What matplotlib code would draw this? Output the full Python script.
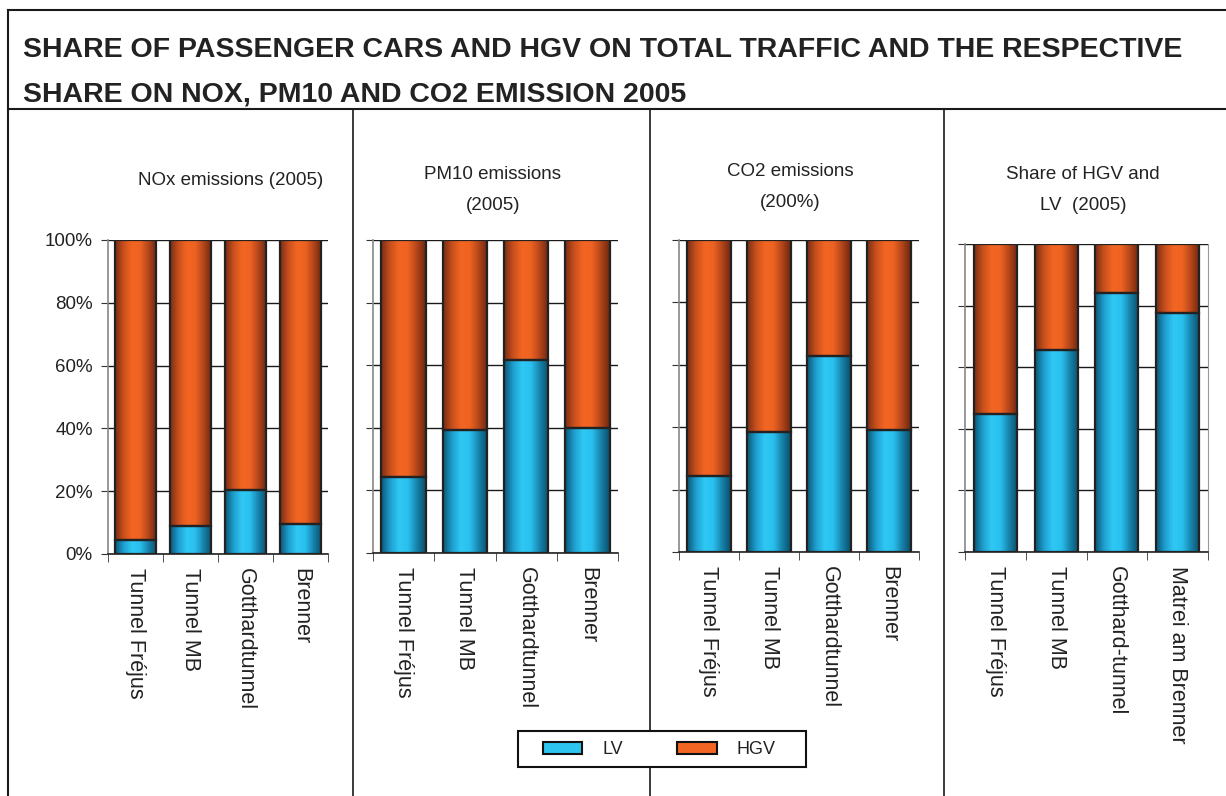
import matplotlib
matplotlib.use('Agg')
import matplotlib.pyplot as plt
import numpy as np
from matplotlib.colors import LinearSegmentedColormap
from matplotlib.patches import Rectangle, Patch
from matplotlib.lines import Line2D

W, H = 1226, 796
plt.rcParams['font.family'] = ['Liberation Sans', 'DejaVu Sans']

# ---------------- data ----------------
title_line1 = "SHARE OF PASSENGER CARS AND HGV ON TOTAL TRAFFIC AND THE RESPECTIVE"
title_line2 = "SHARE ON NOX, PM10 AND CO2 EMISSION 2005"
panel_titles = ["NOx emissions (2005)", "PM10 emissions\n(2005)",
                "CO2 emissions\n(200%)", "Share of HGV and\nLV  (2005)"]
cats_emission = ["Tunnel Fréjus", "Tunnel MB", "Gotthardtunnel", "Brenner"]
cats_share = ["Tunnel Fréjus", "Tunnel MB", "Gotthard-tunnel", "Matrei am Brenner"]
lv_nox = [4.5, 8.9, 20.4, 9.5]
lv_pm10 = [24.4, 39.3, 61.7, 39.8]
lv_co2 = [24.2, 38.4, 62.9, 39.1]
lv_share = [44.8, 65.6, 84.2, 77.7]
total = 100.0
yticks = [0, 20, 40, 60, 80, 100]
ytick_labels = ["0%", "20%", "40%", "60%", "80%", "100%"]
series_names = ["LV", "HGV"]

panels = [
    (panel_titles[0], cats_emission, lv_nox),
    (panel_titles[1], cats_emission, lv_pm10),
    (panel_titles[2], cats_emission, lv_co2),
    (panel_titles[3], cats_share, lv_share),
]

# ---------------- layout (pixels) ----------------
axes_px = [(108, 240, 328, 554), (373, 240, 618, 553),
           (679, 240, 919, 552), (965, 244, 1208, 552)]
bar_widths = [0.75, 0.73, 0.72, 0.71]
subtitle_px = [(231, 172), (493, 166), (790, 163), (1083, 166)]

LV_FLAT = '#2EC4F0'
HGV_FLAT = '#F26522'
lv_cmap = LinearSegmentedColormap.from_list(
    'lv', ['#0b5878', '#1f9fcf', '#2fc8f4', '#2ac0ee', '#1784ad', '#0b4f6a'])
hgv_cmap = LinearSegmentedColormap.from_list(
    'hgv', ['#7a2e15', '#c9501d', '#f26522', '#ef6322', '#b4461b', '#6e270f'])
grad = np.linspace(0, 1, 64).reshape(1, -1)


def fx(x):
    return x / W


def fy(y):
    return 1 - y / H


fig = plt.figure(figsize=(W / 100, H / 100), dpi=100)

# frame lines
lw_frame = 1.5
fig.add_artist(Line2D([fx(8), fx(W)], [fy(10), fy(10)], color='#1a1a1a', lw=lw_frame))
fig.add_artist(Line2D([fx(8), fx(8)], [fy(10), fy(H)], color='#1a1a1a', lw=lw_frame))
fig.add_artist(Line2D([fx(8), fx(W)], [fy(109), fy(109)], color='#1a1a1a', lw=lw_frame))
for xd in (353, 650, 944):
    fig.add_artist(Line2D([fx(xd), fx(xd)], [fy(109), fy(H)], color='#1a1a1a', lw=1.2))

fig.text(fx(23), fy(57), title_line1, fontsize=20.5, fontweight='bold', color='#222222',
         ha='left', va='baseline')
fig.text(fx(23), fy(102), title_line2, fontsize=20.5, fontweight='bold', color='#222222',
         ha='left', va='baseline')

for i, (ptitle, cats, lv) in enumerate(panels):
    l, t, r, b = axes_px[i]
    ax = fig.add_axes([fx(l), fy(b), (r - l) / W, (b - t) / H])
    x = np.arange(len(cats))
    lv = np.array(lv)
    hgv = total - lv
    w = bar_widths[i]
    for xi, lo, hi in zip(x, lv, hgv):
        for y0, h, cmap in ((0, lo, lv_cmap), (lo, hi, hgv_cmap)):
            ax.imshow(grad, cmap=cmap, aspect='auto', zorder=2,
                      extent=(xi - w / 2, xi + w / 2, y0, y0 + h), interpolation='bicubic')
            ax.add_patch(Rectangle((xi - w / 2, y0), w, h, fill=False,
                                   edgecolor='#222222', lw=1.6, zorder=3))
    ax.set_xlim(-0.5, len(cats) - 0.5)
    ax.set_ylim(0, total)
    ax.set_yticks(yticks)
    ax.yaxis.grid(True, color='#1a1a1a', lw=1.0)
    ax.set_axisbelow(True)
    ax.set_xticks(x)
    ax.set_xticklabels(cats, rotation=270, fontsize=15.5, color='#222222', va='top', ha='center')
    ax.set_xticks(np.arange(-0.5, len(cats)), minor=True)
    ax.tick_params(axis='x', which='major', length=0, pad=10)
    ax.tick_params(axis='x', which='minor', length=6, color='#333333', direction='out')
    if i == 0:
        ax.set_yticklabels(ytick_labels, fontsize=13.5, color='#222222')
        ax.tick_params(axis='y', length=5, color='#333333', direction='out', pad=6)
    else:
        ax.set_yticklabels([])
        ax.tick_params(axis='y', length=5, color='#333333', direction='out')
    ax.spines['top'].set_visible(False)
    ax.spines['right'].set_visible(i == 3)
    ax.spines['right'].set_color('#999999')
    ax.spines['left'].set_color('#888888')
    ax.spines['left'].set_linewidth(1.2)
    ax.spines['bottom'].set_color('#222222')
    ax.spines['bottom'].set_linewidth(1.2)
    ax.set_facecolor('none')
    cx, cy = subtitle_px[i]
    fig.text(fx(cx), fy(cy), ptitle, fontsize=13.5, color='#222222', ha='center', va='top',
             linespacing=2.1)

handles = [Patch(facecolor=LV_FLAT, edgecolor='#111111', lw=1.5),
           Patch(facecolor=HGV_FLAT, edgecolor='#111111', lw=1.5)]
leg = fig.legend(handles, series_names, loc='center', bbox_to_anchor=(fx(659), fy(750)),
                 ncol=2, fontsize=13, frameon=False,
                 handlelength=2.2, handleheight=0.6, columnspacing=3.0, handletextpad=1.1,
                 borderpad=0.6, borderaxespad=0, labelcolor='#222222')
fig.add_artist(Rectangle((fx(518), fy(767)), 288 / W, 36 / H, fill=True, facecolor='white',
                         edgecolor='#111111', lw=1.5, transform=fig.transFigure, zorder=4))
leg.set_zorder(5)

fig.savefig('out.png', dpi=100, facecolor='white')
